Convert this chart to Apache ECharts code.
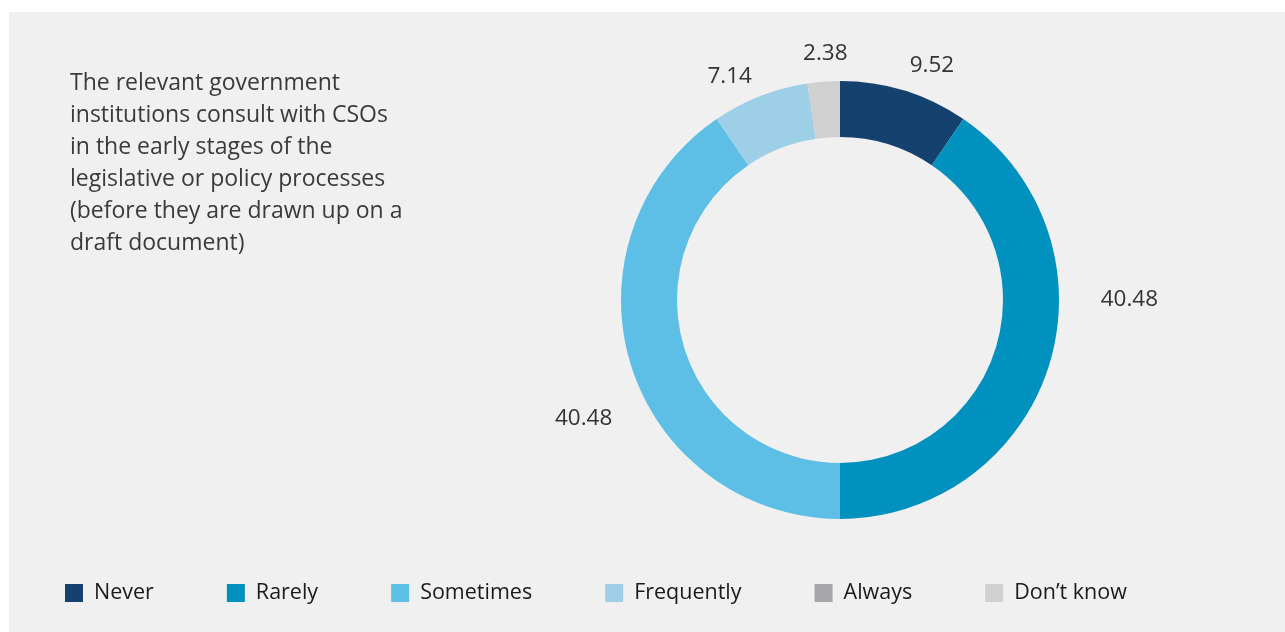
<!DOCTYPE html>
<html>
<head>
<meta charset="utf-8">
<script src="https://cdn.jsdelivr.net/npm/echarts@6/dist/echarts.min.js"></script>
<style>
  html, body { margin: 0; padding: 0; background: #ffffff; }
  #chart { position: absolute; left: 9px; top: 12px; width: 1276px; height: 620px; }
</style>
</head>
<body>
<div id="chart"></div>
<script>
// Survey answers, share of respondents (%)
const categories = ['Never', 'Rarely', 'Sometimes', 'Frequently', 'Always', 'Don\u2019t know'];
const shares = [9.52, 40.48, 40.48, 7.14, 0, 2.38];
const colors = ['#15416f', '#0091be', '#5dbfe6', '#9dcfe7', '#a7a7aa', '#d0d0d0'];
const question = 'The relevant government\ninstitutions consult with CSOs\nin the early stages of the\nlegislative or policy processes\n(before they are drawn up on a\ndraft document)';

// Small shifts applied to each value label after the pie lays it out
const labelNudge = [[-4, -12], [33, -69], [0, 50], [2, -6], [0, 0], [30, -14]];

const FONT = '"Open Sans", sans-serif';

const chart = echarts.init(document.getElementById('chart'), null, { renderer: 'canvas' });

chart.setOption({
  backgroundColor: '#f0f0f0',
  animation: false,
  title: {
    text: question,
    left: 61,
    top: 55,
    padding: 0,
    textStyle: {
      fontFamily: FONT,
      fontSize: 23,
      fontWeight: 'normal',
      color: '#3a3a3a',
      lineHeight: 32
    }
  },
  legend: {
    data: categories,
    left: 56,
    top: 570,
    padding: 0,
    itemWidth: 18,
    itemHeight: 18,
    itemGap: 73,
    icon: 'rect',
    selectedMode: false,
    textStyle: {
      fontFamily: FONT,
      fontSize: 21.5,
      color: '#1a1a1a',
      padding: [0, 0, 0, 6]
    }
  },
  series: [{
    type: 'pie',
    center: [831, 288],
    radius: [163, 219],
    startAngle: 90,
    clockwise: true,
    avoidLabelOverlap: false,
    stillShowZeroSum: true,
    data: categories.map((name, i) => ({
      name,
      value: shares[i],
      itemStyle: { color: colors[i] },
      label: { show: shares[i] > 0 }
    })),
    label: {
      show: true,
      position: 'outside',
      formatter: p => p.value.toFixed(2),
      fontFamily: FONT,
      fontSize: 22.5,
      color: '#333333'
    },
    labelLine: { show: false, length: 14, length2: 0 },
    labelLayout: p => ({ dx: labelNudge[p.dataIndex][0], dy: labelNudge[p.dataIndex][1] }),
    emphasis: { disabled: true }
  }]
});
</script>
</body>
</html>
